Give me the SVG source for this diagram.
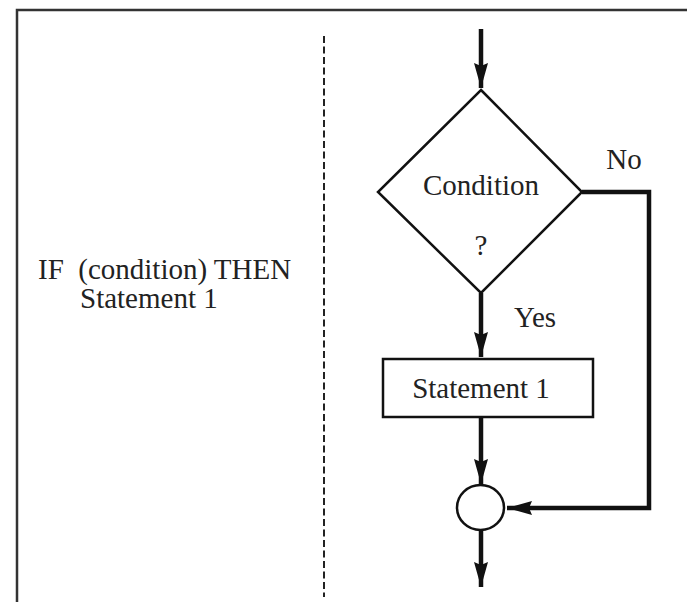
<svg xmlns="http://www.w3.org/2000/svg" width="687" height="605" viewBox="0 0 687 605">
<style>
.t{font-family:"Liberation Serif","Times New Roman",serif;font-size:29px;fill:#222}
.shape{fill:#fff;stroke:#111;stroke-width:2.5}
.flow{fill:none;stroke:#111;stroke-width:4.5}
</style>
<defs>
<marker id="ah" viewBox="0 0 25 14" refX="25" refY="7" markerWidth="25" markerHeight="14" orient="auto" markerUnits="userSpaceOnUse">
<path d="M0,0 L25,7 L0,14 L3,7 Z" fill="#111"/>
</marker>
</defs>
<rect x="0" y="0" width="687" height="605" fill="#fff"/>
<path d="M17,602 V10 H687" fill="none" stroke="#333" stroke-width="2.5"/>
<line x1="324" y1="36" x2="324" y2="597" stroke="#222" stroke-width="2" stroke-dasharray="7,3.5"/>
<g id="code">
<text class="t" x="38" y="279" xml:space="preserve">IF  (condition) THEN</text>
<text class="t" x="80" y="308">Statement 1</text>
</g>
<g id="connectors">
<line class="flow" x1="481" y1="29" x2="481" y2="88" marker-end="url(#ah)"/>
<line class="flow" x1="481" y1="293" x2="481" y2="357" marker-end="url(#ah)"/>
<line class="flow" x1="481" y1="417" x2="481" y2="484" marker-end="url(#ah)"/>
<line class="flow" x1="481" y1="530" x2="481" y2="587" marker-end="url(#ah)"/>
<path class="flow" d="M582,192 H649 V508 H507" marker-end="url(#ah)"/>
</g>
<g id="decision">
<polygon class="shape" points="481,90 582,192 481,293 378,192"/>
<text class="t" x="481" y="195" text-anchor="middle">Condition</text>
<text class="t" x="481" y="255" text-anchor="middle">?</text>
</g>
<g id="labels">
<text class="t" x="624" y="169" text-anchor="middle">No</text>
<text class="t" x="535" y="327" text-anchor="middle">Yes</text>
</g>
<g id="statement">
<rect class="shape" x="383" y="359" width="210" height="58"/>
<text class="t" x="481" y="398" text-anchor="middle">Statement 1</text>
</g>
<g id="join">
<ellipse class="shape" cx="480.5" cy="507.5" rx="23.5" ry="22.5"/>
</g>
</svg>
